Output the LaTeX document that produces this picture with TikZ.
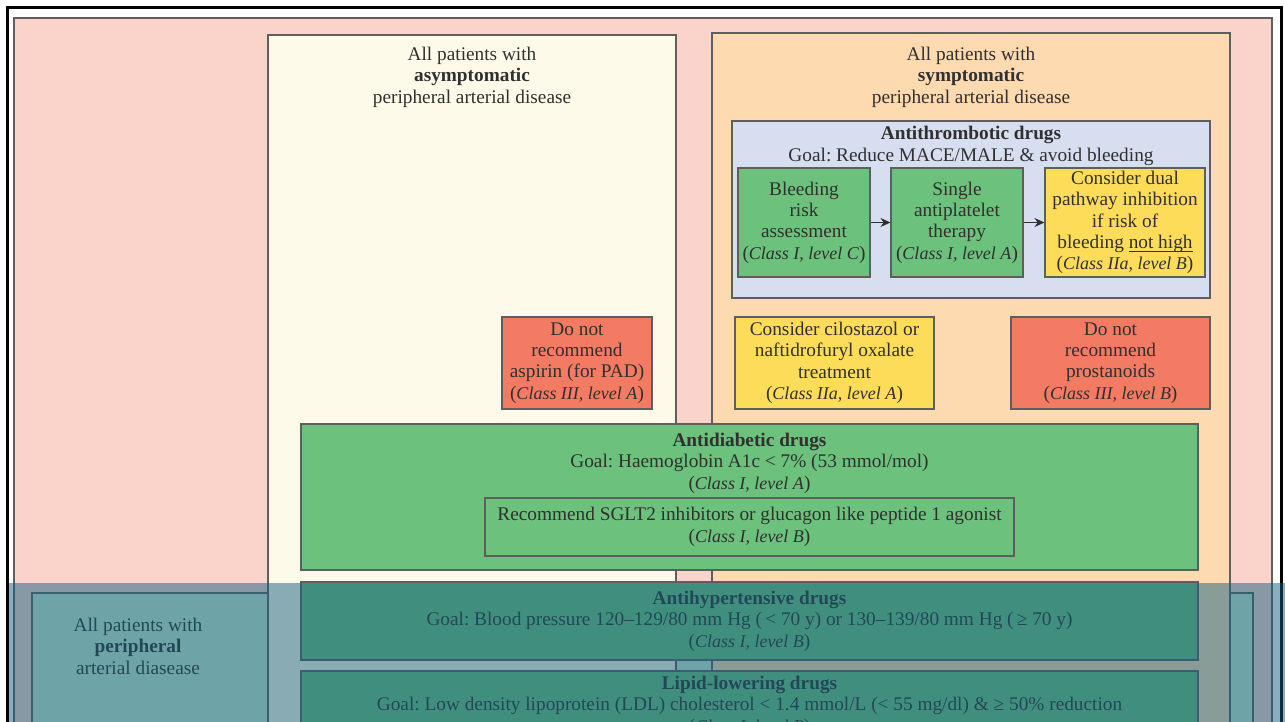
\documentclass[tikz,border=0pt]{standalone}
\usepackage{fontspec}
\setmainfont{Liberation Serif}
\usetikzlibrary{arrows.meta}

\definecolor{txt}{HTML}{303030}
\definecolor{edge}{HTML}{5E5E5E}
\definecolor{panelpink}{RGB}{250,212,202}
\definecolor{cream}{RGB}{254,250,234}
\definecolor{peach}{RGB}{253,218,176}
\definecolor{paleblue}{RGB}{214,222,240}
\definecolor{drugreen}{RGB}{108,193,124}
\definecolor{warnyellow}{RGB}{253,220,90}
\definecolor{stopred}{RGB}{244,123,99}
\definecolor{mint}{RGB}{200,235,208}
\definecolor{veil}{RGB}{22,95,128}

\newcommand\bodyfont{\fontsize{19.3pt}{21.4pt}\selectfont\frenchspacing}
% class/level tag, italic set a touch smaller so it keeps inside the narrow boxes
\newcommand\cls[1]{(\textit{\fontsize{18pt}{21.4pt}\selectfont #1})}
% underline that sits close to the baseline, so it stays clear of the next line
\newcommand\ulpart[1]{\setbox0\hbox{#1}\rlap{\rule[-3.2pt]{\wd0}{0.9pt}}\box0}

\tikzset{
  panel/.style={draw=edge, line width=1.1pt},
  label text/.style={text=txt, align=center, inner sep=0pt, font=\bodyfont},
  drugbox/.style={draw=edge, line width=1.1pt, text=txt, align=center,
                  inner sep=0pt, font=\bodyfont},
  flow/.style={draw=txt, line width=1.1pt, -{Stealth[length=10pt,width=9pt]}},
}

\begin{document}
\begin{tikzpicture}[x=1pt,y=-1pt]
\useasboundingbox (0,0) rectangle (1285,722);
\clip (0,0) rectangle (1285,722);
\fill[white] (0,0) rectangle (1285,722);

% outer frame and background panel
\draw[black, line width=3pt] (7.5,8) rectangle (1281.5,780);
\draw[panel, fill=panelpink] (14,18) rectangle (1272,780);

% all patients with PAD (lies beneath both patient groups)
\draw[panel, fill=mint] (32,593) rectangle (1253,780);
\node[label text] (allpad) at (138,646)
  {All patients with\\\textbf{peripheral}\\arterial diasease};

% asymptomatic group
\draw[panel, fill=cream] (268,35) rectangle (676,780);
\node[label text] (asym) at (472,77)
  {All patients with\\\textbf{asymptomatic}\\peripheral arterial disease};

% symptomatic group
\draw[panel, fill=peach] (712,33) rectangle (1230,780);
\node[label text] (sym) at (971,77)
  {All patients with\\\textbf{symptomatic}\\peripheral arterial disease};

% antithrombotic block
\node[drugbox, fill=paleblue, minimum width=478pt, minimum height=177pt]
  (anti) at (971,209.5) {};
\node[label text] (antititle) at (971,146)
  {\textbf{Antithrombotic drugs}\\Goal: Reduce MACE/MALE \& avoid bleeding};

\node[drugbox, fill=drugreen, minimum width=132pt, minimum height=109pt]
  (bleed) at (804,222.5) {Bleeding\\risk\\assessment\\\cls{Class I, level C}};
\node[drugbox, fill=drugreen, minimum width=132pt, minimum height=109pt]
  (single) at (957,222.5) {Single\\antiplatelet\\therapy\\\cls{Class I, level A}};
\node[drugbox, fill=warnyellow, minimum width=160pt, minimum height=109pt]
  (dual) at (1125,222.5)
  {Consider dual\\pathway inhibition\\if risk of\\bleeding \ulpart{not high}\\\cls{Class IIa, level B}};

\draw[flow] (bleed) -- (single);
\draw[flow] (single) -- (dual);

% individual recommendations
\node[drugbox, fill=stopred, minimum width=150pt, minimum height=92pt]
  (aspirin) at (577,363) {Do not\\recommend\\aspirin (for PAD)\\\cls{Class III, level A}};
\node[drugbox, fill=warnyellow, minimum width=199pt, minimum height=92pt]
  (cilo) at (834.5,363) {Consider cilostazol or\\naftidrofuryl oxalate\\treatment\\\cls{Class IIa, level A}};
\node[drugbox, fill=stopred, minimum width=199pt, minimum height=92pt]
  (prost) at (1110.5,363) {Do not\\recommend\\prostanoids\\\cls{Class III, level B}};

% antidiabetic block
\node[drugbox, fill=drugreen, minimum width=897pt, minimum height=146pt]
  (diab) at (749.5,497) {};
\node[label text] (diabtitle) at (749.5,463)
  {\textbf{Antidiabetic drugs}\\Goal: Haemoglobin A1c < 7\% (53 mmol/mol)\\\cls{Class I, level A}};
\node[drugbox, fill=drugreen, minimum width=529pt, minimum height=58pt]
  (sglt) at (749.5,527)
  {Recommend SGLT2 inhibitors or glucagon like peptide 1 agonist\\\cls{Class I, level B}};

% antihypertensive and lipid-lowering blocks
\node[drugbox, fill=drugreen, minimum width=897pt, minimum height=78pt]
  (htn) at (749.5,621)
  {\textbf{Antihypertensive drugs}\\Goal: Blood pressure 120--129/80 mm Hg (\,< 70 y) or 130--139/80 mm Hg (\,≥ 70 y)\\\cls{Class I, level B}};
\node[drugbox, fill=drugreen, minimum width=897pt, minimum height=70pt]
  (lipid) at (749.5,706)
  {\textbf{Lipid-lowering drugs}\\Goal: Low density lipoprotein (LDL) cholesterol < 1.4 mmol/L (< 55 mg/dl) \& ≥ 50\% reduction\\\cls{Class I, level B}};

% translucent highlight over the lower band
\fill[veil, fill opacity=0.5] (9,583) rectangle (1285,722);
\end{tikzpicture}
\end{document}
